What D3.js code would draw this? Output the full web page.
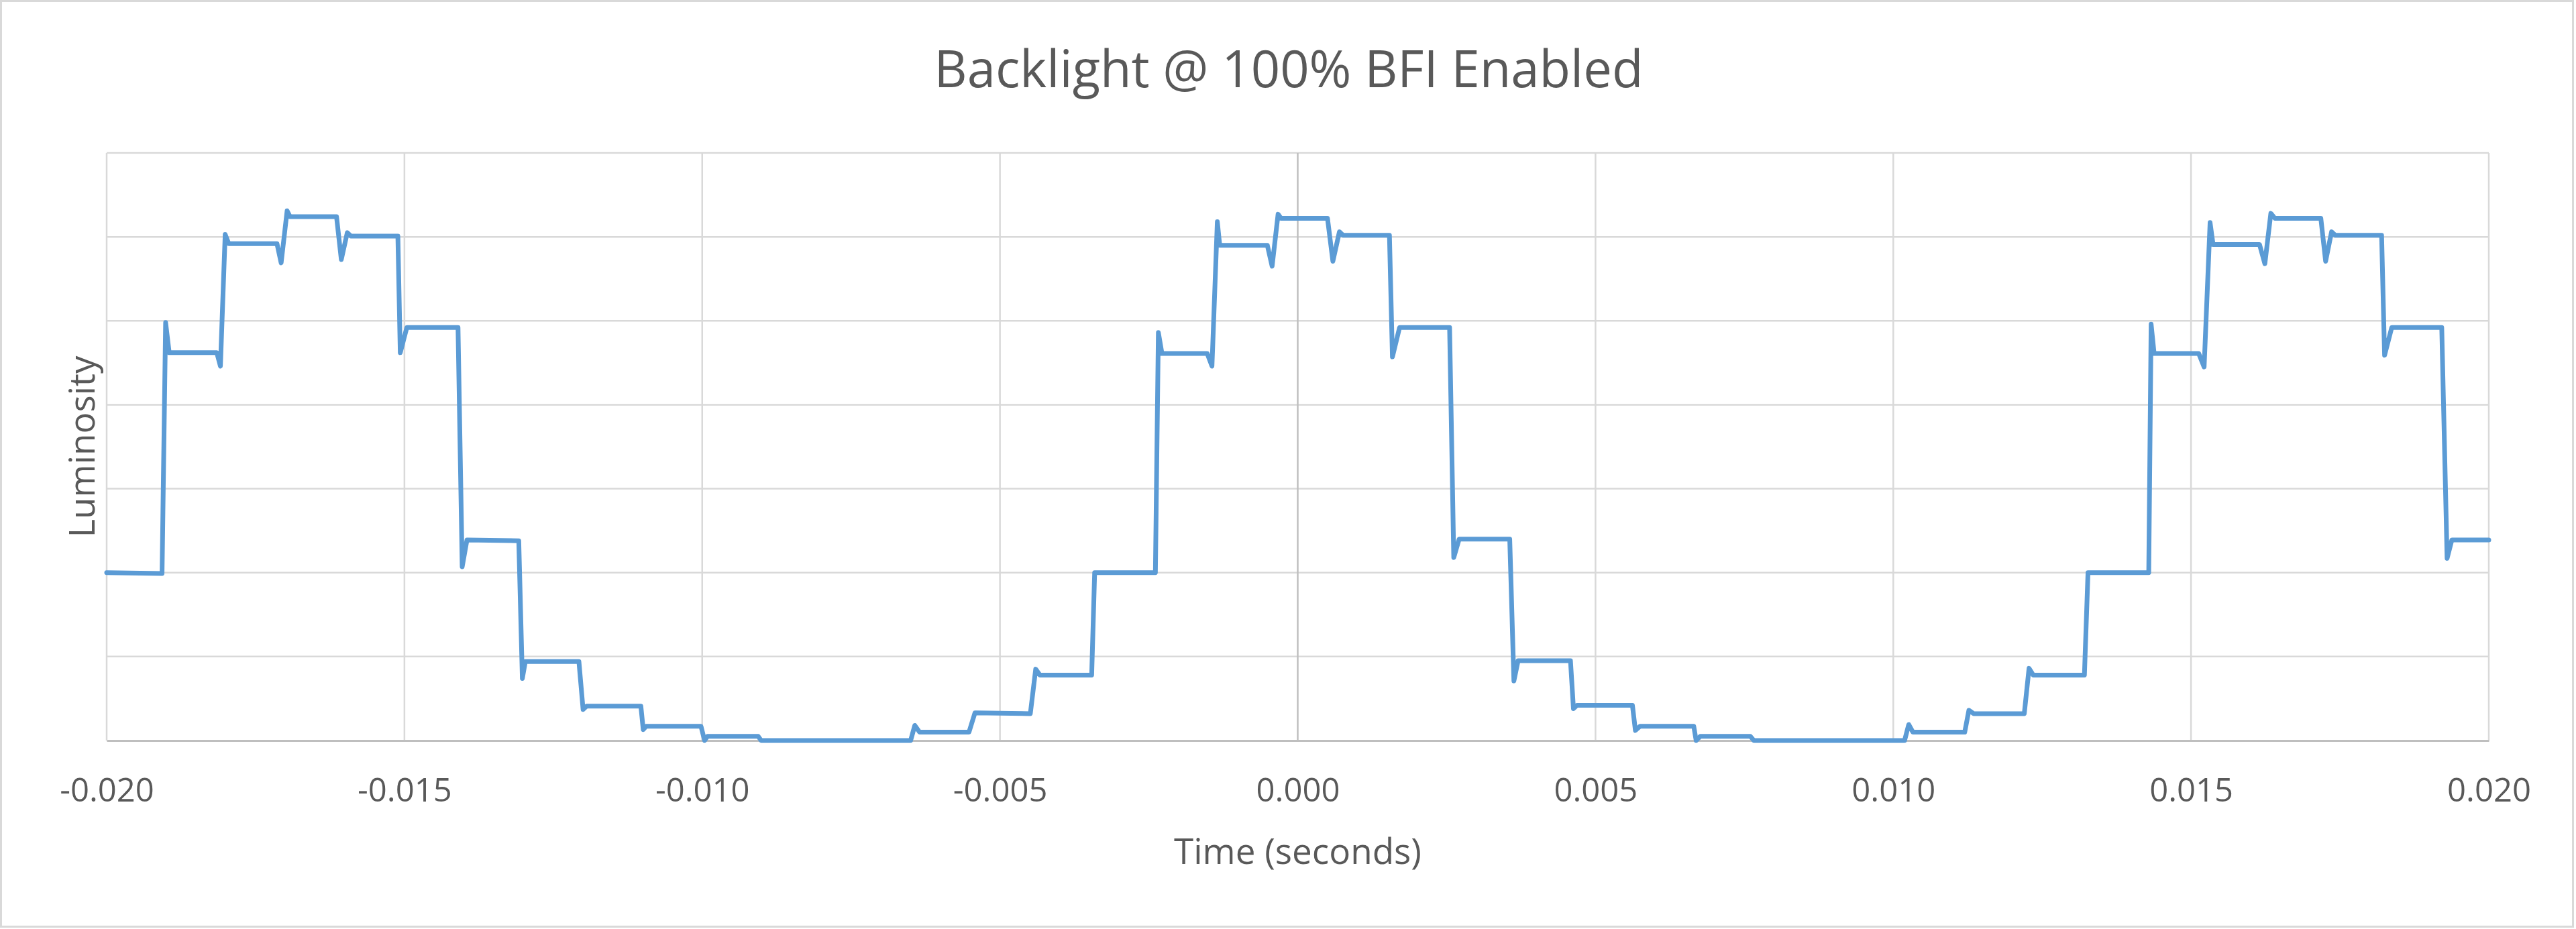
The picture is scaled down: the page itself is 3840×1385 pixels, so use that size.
<!DOCTYPE html>
<html>
<head>
<meta charset="utf-8">
<script src="https://cdn.jsdelivr.net/npm/d3@7"></script>
<style>
  html, body { margin: 0; padding: 0; background: #ffffff; }
  svg { display: block; }
</style>
</head>
<body>
<svg id="chart" width="3840" height="1385"></svg>
<script>
// ---------------- data ----------------
const chartTitle = "Backlight @ 100% BFI Enabled";
const xAxisTitle = "Time (seconds)";
const yAxisTitle = "Luminosity";

const xTickValues = [-0.020, -0.015, -0.010, -0.005, 0.000, 0.005, 0.010, 0.015, 0.020];
const xTickLabels = ["-0.020", "-0.015", "-0.010", "-0.005", "0.000", "0.005", "0.010", "0.015", "0.020"];
const yGridValues = [0, 1, 2, 3, 4, 5, 6, 7];

// trace vertices: time (s) and relative luminosity (grid units)
const timeSec = [
  -0.02000, -0.01907, -0.01901, -0.01895, -0.01815, -0.01809, -0.01801, -0.01795,
  -0.01714, -0.01707, -0.01697, -0.01692, -0.01614, -0.01606, -0.01596, -0.01590,
  -0.01511, -0.01507, -0.01496, -0.01410, -0.01403, -0.01395, -0.01308, -0.01302,
  -0.01297, -0.01207, -0.01200, -0.01194, -0.01103, -0.01099, -0.01094, -0.01002,
  -0.00996, -0.00991, -0.00906, -0.00901, -0.00650, -0.00643, -0.00635, -0.00552,
  -0.00542, -0.00449, -0.00440, -0.00433, -0.00346, -0.00341, -0.00239, -0.00234,
  -0.00228, -0.00152, -0.00144, -0.00135, -0.00131, -0.00051, -0.00043, -0.00033,
  -0.00028,  0.00050,  0.00059,  0.00070,  0.00076,  0.00154,  0.00159,  0.00171,
   0.00255,  0.00262,  0.00271,  0.00356,  0.00363,  0.00370,  0.00458,  0.00463,
   0.00469,  0.00562,  0.00567,  0.00575,  0.00665,  0.00669,  0.00676,  0.00760,
   0.00766,  0.01019,  0.01026,  0.01033,  0.01120,  0.01127,  0.01135,  0.01220,
   0.01228,  0.01235,  0.01321,  0.01327,  0.01429,  0.01433,  0.01438,  0.01513,
   0.01522,  0.01532,  0.01537,  0.01615,  0.01624,  0.01634,  0.01641,  0.01718,
   0.01726,  0.01736,  0.01742,  0.01820,  0.01825,  0.01837,  0.01921,  0.01930,
   0.01938,  0.02000
];
const luminosity = [
  2.00, 1.99, 4.98, 4.62, 4.62, 4.46, 6.03, 5.92,
  5.92, 5.69, 6.31, 6.24, 6.24, 5.73, 6.05, 6.01,
  6.01, 4.62, 4.92, 4.92, 2.07, 2.39, 2.38, 0.74,
  0.94, 0.94, 0.37, 0.41, 0.41, 0.13, 0.17, 0.17,
  0.00, 0.05, 0.05, 0.00, 0.00, 0.18, 0.10, 0.10,
  0.33, 0.32, 0.85, 0.78, 0.78, 2.00, 2.00, 4.86,
  4.61, 4.61, 4.46, 6.18, 5.90, 5.90, 5.65, 6.27,
  6.22, 6.22, 5.71, 6.06, 6.02, 6.02, 4.57, 4.92,
  4.92, 2.18, 2.40, 2.40, 0.71, 0.95, 0.95, 0.38,
  0.42, 0.42, 0.12, 0.17, 0.17, 0.00, 0.05, 0.05,
  0.00, 0.00, 0.19, 0.10, 0.10, 0.36, 0.32, 0.32,
  0.86, 0.78, 0.78, 2.00, 2.00, 4.96, 4.61, 4.61,
  4.45, 6.17, 5.91, 5.91, 5.68, 6.28, 6.22, 6.22,
  5.71, 6.06, 6.02, 6.02, 4.59, 4.92, 4.92, 2.17,
  2.39, 2.39
];

// ---------------- layout ----------------
const W = 3840, H = 1385;
const plot = { left: 159, right: 3710, top: 228, bottom: 1104 };
const textColor = "#595959";
const gridColor = "#d9d9d9";
const axisColor = "#bfbfbf";
const lineColor = "#5b9bd5";
const fontFamily = "'Open Sans', 'Noto Sans', sans-serif";

const svg = d3.select("#chart");

// outer chart border
svg.append("rect")
  .attr("x", 1.5).attr("y", 1.5)
  .attr("width", W - 6).attr("height", H - 5)
  .attr("fill", "#ffffff")
  .attr("stroke", gridColor)
  .attr("stroke-width", 3);

const x = d3.scaleLinear().domain([-0.020, 0.020]).range([plot.left, plot.right]);
const y = d3.scaleLinear().domain([0, 7]).range([plot.bottom, plot.top]);

// horizontal gridlines
svg.append("g")
  .selectAll("line")
  .data(yGridValues.filter(v => v !== 0))
  .join("line")
  .attr("x1", plot.left).attr("x2", plot.right)
  .attr("y1", d => y(d)).attr("y2", d => y(d))
  .attr("stroke", gridColor)
  .attr("stroke-width", 2.5);

// vertical gridlines (zero line drawn darker as the vertical axis)
svg.append("g")
  .selectAll("line")
  .data(xTickValues)
  .join("line")
  .attr("x1", d => x(d)).attr("x2", d => x(d))
  .attr("y1", plot.top).attr("y2", plot.bottom)
  .attr("stroke", d => d === 0 ? axisColor : gridColor)
  .attr("stroke-width", 2.5);

// x axis with labels
const xAxis = d3.axisBottom(x)
  .tickValues(xTickValues)
  .tickFormat((d, i) => xTickLabels[i])
  .tickSize(0)
  .tickPadding(0);

const gx = svg.append("g")
  .attr("transform", `translate(0,${plot.bottom})`)
  .call(xAxis);
gx.select(".domain")
  .attr("stroke", axisColor)
  .attr("stroke-width", 3);
gx.selectAll(".tick text")
  .attr("text-anchor", "middle")
  .attr("fill", textColor)
  .attr("font-family", fontFamily)
  .attr("font-size", 49)
  .attr("dy", null)
  .attr("y", 91);

// data line
const pts = timeSec.map((t, i) => [t, luminosity[i]]);
const line = d3.line().x(d => x(d[0])).y(d => y(d[1]));
svg.append("path")
  .datum(pts)
  .attr("d", line)
  .attr("fill", "none")
  .attr("stroke", lineColor)
  .attr("stroke-width", 7)
  .attr("stroke-linejoin", "round")
  .attr("stroke-linecap", "round");

// title
svg.append("text")
  .attr("x", 1921).attr("y", 130)
  .attr("text-anchor", "middle")
  .attr("fill", textColor)
  .attr("font-family", fontFamily)
  .attr("font-size", 76)
  .text(chartTitle);

// x axis title
svg.append("text")
  .attr("x", (plot.left + plot.right) / 2).attr("y", 1288)
  .attr("text-anchor", "middle")
  .attr("fill", textColor)
  .attr("font-family", fontFamily)
  .attr("font-size", 53)
  .text(xAxisTitle);

// y axis title
svg.append("text")
  .attr("transform", `translate(141,${(plot.top + plot.bottom) / 2}) rotate(-90)`)
  .attr("text-anchor", "middle")
  .attr("fill", textColor)
  .attr("font-family", fontFamily)
  .attr("font-size", 53)
  .text(yAxisTitle);
</script>
</body>
</html>
